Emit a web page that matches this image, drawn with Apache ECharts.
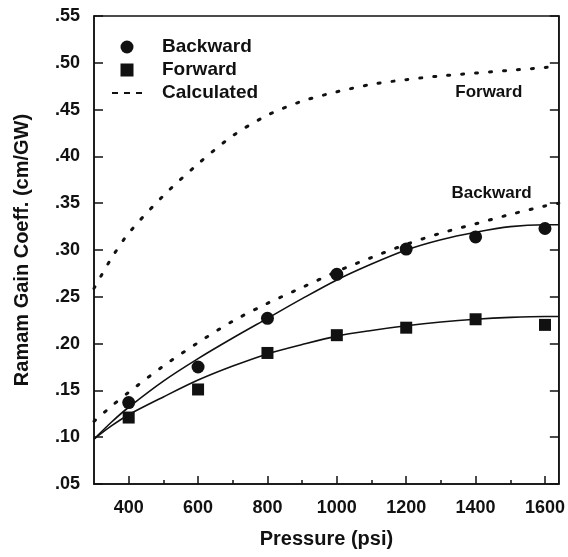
<!DOCTYPE html>
<html><head><meta charset="utf-8">
<script src="https://cdn.jsdelivr.net/npm/echarts@6/dist/echarts.min.js"></script>
<style>html,body{margin:0;padding:0;background:#fff}#c{width:568px;height:557px}</style>
</head><body><div id="c"></div>
<script>
const pressureMeasured = [400, 600, 800, 1000, 1200, 1400, 1600];
const backwardMeasured = [0.137, 0.175, 0.227, 0.274, 0.301, 0.314, 0.323];
const forwardMeasured  = [0.121, 0.151, 0.190, 0.209, 0.217, 0.226, 0.220];

const curvePressure = [300, 350, 400, 500, 600, 700, 800, 900, 1000, 1100, 1200, 1300, 1400, 1500, 1600, 1640];
const backwardFit   = [0.098, 0.116, 0.132, 0.160, 0.184, 0.206, 0.227, 0.248, 0.268, 0.285, 0.300, 0.311, 0.319, 0.325, 0.327, 0.327];
const forwardFit    = [0.098, 0.112, 0.124, 0.143, 0.161, 0.176, 0.189, 0.199, 0.208, 0.214, 0.219, 0.223, 0.226, 0.228, 0.229, 0.229];
const calcBackward  = [0.117, 0.133, 0.148, 0.176, 0.201, 0.224, 0.243, 0.260, 0.277, 0.292, 0.306, 0.318, 0.328, 0.338, 0.347, 0.350];
const calcForward   = [0.259, 0.291, 0.318, 0.358, 0.392, 0.422, 0.444, 0.459, 0.469, 0.477, 0.482, 0.486, 0.489, 0.492, 0.495, 0.497];

const xMajorTicks = [400, 600, 800, 1000, 1200, 1400, 1600];
const xMinorTicks = [500, 700, 900, 1100, 1300, 1500];

const annotations = [
  { text: 'Forward',  x: 1438, y: 0.469 },
  { text: 'Backward', x: 1446, y: 0.361 }
];

const FONT = '"Liberation Sans", Arial, Helvetica, sans-serif';
const pair = (xs, ys) => xs.map((x, i) => [x, ys[i]]);

const chart = echarts.init(document.getElementById('c'), null, { renderer: 'canvas' });

const axisLine = { show: true, lineStyle: { color: '#111', width: 1.5 } };
const annotLabel = (a) => ({
  coord: [a.x, a.y], symbol: 'circle', symbolSize: 2, itemStyle: { color: 'rgba(0,0,0,0)' },
  label: { show: true, formatter: a.text, position: 'inside', fontFamily: FONT, fontWeight: 'bold', fontSize: 17, color: '#111', opacity: 1 }
});

chart.setOption({
  animation: false,
  backgroundColor: '#fff',
  textStyle: { fontFamily: FONT },
  grid: { left: 94, right: 9, top: 16, bottom: 73, show: true, borderColor: '#111', borderWidth: 1.5, backgroundColor: 'transparent' },
  legend: {
    orient: 'vertical', left: 107, top: 32,
    itemWidth: 30, itemHeight: 13, itemGap: 3, symbolKeepAspect: true,
    data: [
      { name: 'Backward', icon: 'circle', itemStyle: { color: '#111', opacity: 1 } },
      { name: 'Forward', icon: 'path://M0,0L10,0L10,10L0,10Z', itemStyle: { color: '#111', opacity: 1 } },
      { name: 'Calculated', icon: 'path://M0,0L6,0L6,2L0,2Z M12,0L18,0L18,2L12,2Z M24,0L30,0L30,2L24,2Z', itemStyle: { color: '#111', opacity: 1 } }
    ],
    textStyle: { fontFamily: FONT, fontWeight: 'bold', fontSize: 19, color: '#111', lineHeight: 20, padding: [0, 0, 0, 15] }
  },
  xAxis: [{
    type: 'value', min: 300, max: 1640, position: 'bottom',
    name: 'Pressure (psi)', nameLocation: 'middle', nameGap: 45,
    nameTextStyle: { fontFamily: FONT, fontWeight: 'bold', fontSize: 20, color: '#111' },
    axisLine: axisLine,
    splitLine: { show: false },
    axisTick: { show: true, inside: true, length: 8, customValues: xMajorTicks, lineStyle: { color: '#111', width: 1.5 } },
    axisLabel: { customValues: xMajorTicks, fontFamily: FONT, fontWeight: 'bold', fontSize: 18, color: '#111', margin: 15,
      formatter: v => String(v) }
  }, {
    type: 'value', min: 300, max: 1640, position: 'bottom',
    axisLine: { show: false }, splitLine: { show: false },
    axisTick: { show: true, inside: true, length: 4, customValues: xMinorTicks, lineStyle: { color: '#111', width: 1.5 } },
    axisLabel: { show: false }
  }],
  yAxis: [{
    type: 'value', min: 0.05, max: 0.55, interval: 0.05, position: 'left',
    name: 'Ramam Gain Coeff. (cm/GW)', nameLocation: 'middle', nameGap: 62,
    nameTextStyle: { fontFamily: FONT, fontWeight: 'bold', fontSize: 20, color: '#111' },
    axisLine: axisLine, splitLine: { show: false },
    axisTick: { show: true, inside: true, length: 9, lineStyle: { color: '#111', width: 1.5 } },
    axisLabel: { fontFamily: FONT, fontWeight: 'bold', fontSize: 18, color: '#111', margin: 14,
      formatter: v => v.toFixed(2).replace(/^0/, '') }
  }, {
    type: 'value', min: 0.05, max: 0.55, interval: 0.05, position: 'right',
    axisLine: axisLine, splitLine: { show: false },
    axisTick: { show: true, inside: true, length: 9, lineStyle: { color: '#111', width: 1.5 } },
    axisLabel: { show: false }
  }],
  series: [
    { name: 'fitBackward', type: 'line', smooth: 0.3, symbol: 'none', data: pair(curvePressure, backwardFit),
      lineStyle: { color: '#111', width: 1.6 }, z: 3 },
    { name: 'fitForward', type: 'line', smooth: 0.3, symbol: 'none', data: pair(curvePressure, forwardFit),
      lineStyle: { color: '#111', width: 1.6 }, z: 3 },
    { name: 'Calculated', type: 'line', smooth: 0.3, symbol: 'none', data: pair(curvePressure, calcBackward),
      lineStyle: { color: '#111', width: 3, type: [2, 12], cap: 'round' }, itemStyle: { color: '#111' }, z: 3,
      markPoint: { silent: true, animation: false, data: [annotLabel(annotations[1])] } },
    { name: 'Calculated', type: 'line', smooth: 0.3, symbol: 'none', data: pair(curvePressure, calcForward),
      lineStyle: { color: '#111', width: 3, type: [2, 12], cap: 'round' }, itemStyle: { color: '#111' }, z: 3,
      markPoint: { silent: true, animation: false, data: [annotLabel(annotations[0])] } },
    { name: 'Backward', type: 'scatter', symbol: 'circle', symbolSize: 13, data: pair(pressureMeasured, backwardMeasured),
      itemStyle: { color: '#111', opacity: 1 }, z: 5 },
    { name: 'Forward', type: 'scatter', symbol: 'rect', symbolSize: 12, data: pair(pressureMeasured, forwardMeasured),
      itemStyle: { color: '#111', opacity: 1 }, z: 5 }
  ]
});
</script></body></html>
